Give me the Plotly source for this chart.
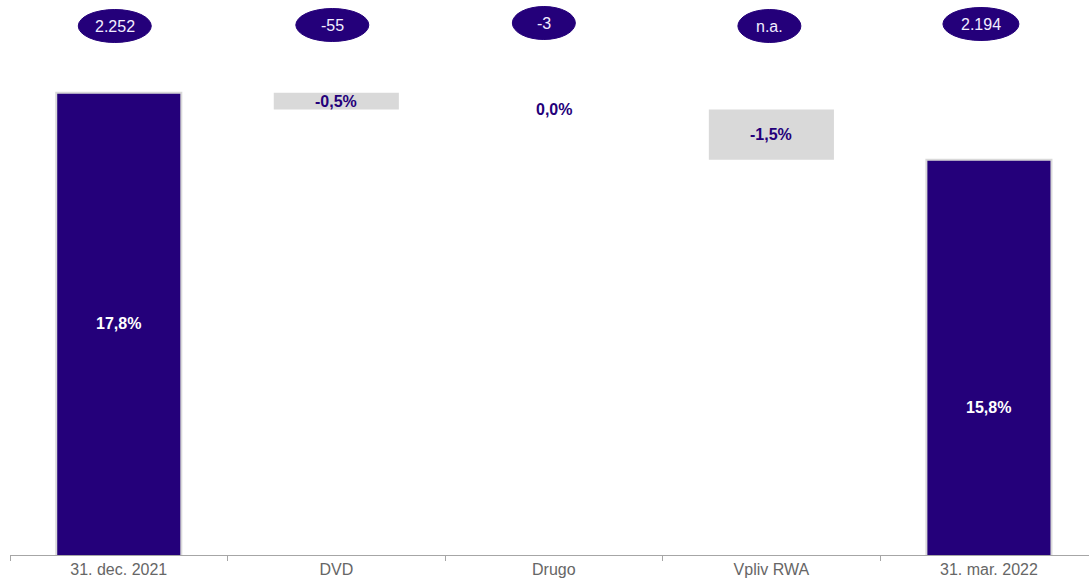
import plotly.graph_objects as go

# ---- data ----
categories = ["31. dec. 2021", "DVD", "Drugo", "Vpliv RWA", "31. mar. 2022"]
measures = ["absolute", "relative", "relative", "relative", "total"]
values = [17.8, -0.5, 0.0, -1.5, 15.8]
bar_labels = ["17,8%", "-0,5%", "0,0%", "-1,5%", "15,8%"]
bubble_labels = ["2.252", "-55", "-3", "n.a.", "2.194"]

# ---- styles ----
DARK = "#24007A"
GRAY = "#D9D9D9"
FONT = "Arial, Liberation Sans, sans-serif"
total_label_y = {0: 10.9, 4: 8.4}          # label positions inside total bars
bubble_off = [-4, -4, -10, -2, -8]          # pixel x offsets of bubbles
bubble_yc = [26, 25, 23, 26, 24]            # pixel y centres of bubbles
bubble_w = [73, 73, 63, 63, 76]
bubble_h = 33

fig = go.Figure()
fig.add_trace(go.Waterfall(
    x=categories, y=values, measure=measures,
    width=[0.575] * len(categories),
    totals=dict(marker=dict(color=DARK, line=dict(color=GRAY, width=2))),
    decreasing=dict(marker=dict(color=GRAY, line=dict(width=0))),
    increasing=dict(marker=dict(color=GRAY, line=dict(width=0))),
    connector=dict(visible=False),
    hoverinfo="skip",
))

annotations = []
level = 0.0
for i, (m, v, lab) in enumerate(zip(measures, values, bar_labels)):
    if m == "absolute":
        level = v
        annotations.append(dict(x=categories[i], y=total_label_y[i], xref="x", yref="y",
                                text=f"<b>{lab}</b>", showarrow=False,
                                font=dict(family=FONT, size=16, color="white")))
    elif m == "relative":
        yc = level + v / 2
        level += v
        annotations.append(dict(x=categories[i], y=yc, xref="x", yref="y",
                                text=f"<b>{lab}</b>", showarrow=False,
                                font=dict(family=FONT, size=16, color=DARK)))
    else:
        annotations.append(dict(x=categories[i], y=total_label_y[i], xref="x", yref="y",
                                text=f"<b>{lab}</b>", showarrow=False,
                                font=dict(family=FONT, size=16, color="white")))

shapes = []
for i, lab in enumerate(bubble_labels):
    off, yc, w = bubble_off[i], bubble_yc[i], bubble_w[i]
    shapes.append(dict(type="circle", xref="x", yref="paper",
                       xsizemode="pixel", xanchor=i, x0=off - w / 2, x1=off + w / 2,
                       ysizemode="pixel", yanchor=1, y0=-(yc + bubble_h / 2), y1=-(yc - bubble_h / 2),
                       fillcolor=DARK, line=dict(color=DARK, width=1)))
    annotations.append(dict(x=i, xref="x", xshift=off, y=1, yref="paper", yshift=-yc,
                            yanchor="middle", text=lab, showarrow=False,
                            font=dict(family=FONT, size=16, color="#F2EEFF")))

fig.update_layout(
    width=1089, height=580,
    margin=dict(l=10, r=0, t=0, b=25),
    paper_bgcolor="white", plot_bgcolor="white",
    showlegend=False,
    shapes=shapes, annotations=annotations,
    xaxis=dict(type="category", range=[-0.5, 4.46], showline=True, linecolor="#A6A6A6",
               linewidth=1, ticks="outside", tickson="boundaries", ticklen=5,
               tickcolor="#A6A6A6", showgrid=False, zeroline=False,
               tickfont=dict(family=FONT, size=16, color="#666666")),
    yaxis=dict(range=[4.0, 20.57], visible=False, showgrid=False, zeroline=False),
)

fig.write_html("out.html", config={"displayModeBar": False})

# remove the default page margin so the figure sits at the window's corner
with open("out.html", encoding="utf-8") as f:
    html = f.read()
html = html.replace("<head>", "<head><style>html,body{margin:0;padding:0;overflow:hidden;}</style>", 1)
with open("out.html", "w", encoding="utf-8") as f:
    f.write(html)
